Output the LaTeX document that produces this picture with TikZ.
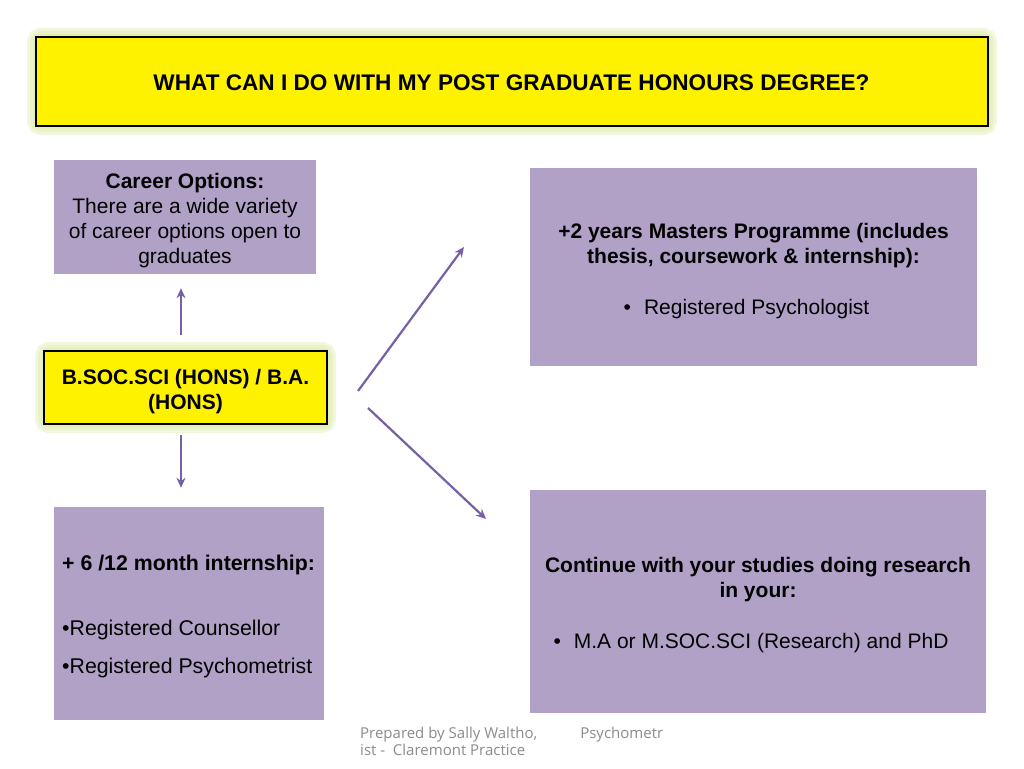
\documentclass[tikz,border=0pt]{standalone}
\usepackage{fontspec}
\usetikzlibrary{arrows.meta}
\setmainfont{Liberation Sans}
\newfontfamily\footfont{Open Sans}
\definecolor{boxpurple}{HTML}{B2A1C7}
\definecolor{arrowpurple}{HTML}{7760A6}
\definecolor{glowgreen}{HTML}{DDEBA8}
\definecolor{foottext}{HTML}{8C8C8C}
\begin{document}
\begin{tikzpicture}[x=1pt,y=-1pt,
  purplebox/.style={fill=boxpurple, draw=none, inner sep=0pt},
  yellowbox/.style={fill=yellow, draw=black, line width=2.5pt, inner sep=0pt},
  boxtext/.style={inner sep=0pt, align=center, font=\fontsize{21}{25}\selectfont},
  boldtext/.style={boxtext, font=\fontsize{21}{25}\selectfont\bfseries},
  linetext/.style={inner sep=0pt, anchor=base west, font=\fontsize{21.3}{25}\selectfont},
  glow/.style={draw=glowgreen, line width=#1, opacity=0.4, rounded corners=5pt},
  arrowline/.style={draw=arrowpurple, line width=2.2pt, -{Stealth[length=10pt,width=9pt]}}
]
\useasboundingbox (0,0) rectangle (1024,768);
\fill[white] (0,0) rectangle (1024,768);

% glows
\foreach \w in {18,12,6} {
  \draw[glow=\w pt] (36,37) rectangle (988,126);
  \draw[glow=\w pt] (44,351) rectangle (327,424);
}

% title
\node[yellowbox, minimum width=952pt, minimum height=89pt] (title) at (512,81.5) {};
\node[boldtext, font=\fontsize{22.6}{26}\selectfont\bfseries] (titletext) at (511.5,83)
  {WHAT CAN I DO WITH MY POST GRADUATE HONOURS DEGREE?};

% career options
\node[purplebox, minimum width=262pt, minimum height=114pt] (career) at (185,217) {};
\node[boxtext] (careertext) at (185,221)
  {\textbf{Career Options:}\\There are a wide variety\\of career options open to\\graduates};

% centre degree
\node[yellowbox, minimum width=283pt, minimum height=73pt] (degree) at (185.5,387.5) {};
\node[boldtext] (degreetext) at (185.5,391.5) {B.SOC.SCI (HONS) / B.A.\\(HONS)};

% masters
\node[purplebox, minimum width=447pt, minimum height=198pt] (masters) at (753.5,267) {};
\node[boxtext] (masterstext) at (753.5,271)
  {\textbf{+2 years Masters Programme (includes}\\\textbf{thesis, coursework \& internship):}\\[26pt]%
   \textbullet\hspace{13pt}Registered Psychologist\hspace*{14pt}};

% internship
\node[purplebox, minimum width=270pt, minimum height=213pt] (intern) at (189,613.5) {};
\node[linetext, font=\fontsize{21.3}{25}\selectfont\bfseries] (internhead) at (62,570.5) {+ 6 /12 month internship:};
\node[linetext] (internone) at (62,635.5) {\textbullet Registered Counsellor};
\node[linetext] (interntwo) at (62,673.5) {\textbullet Registered Psychometrist};

% research
\node[purplebox, minimum width=456pt, minimum height=223pt] (research) at (758,601.5) {};
\node[boxtext] (researchtext) at (758,605.5)
  {\textbf{Continue with your studies doing research}\\\textbf{in your:}\\[26pt]%
   \textbullet\hspace{13pt}M.A or M.SOC.SCI (Research) and PhD\hspace*{14pt}};

% connectors
\draw[arrowline, shorten <=15pt, shorten >=14pt]
  ([xshift=-4.5pt]degree.north) -- ([xshift=-4.5pt]degree.north |- career.south);
\draw[arrowline, shorten <=10pt, shorten >=19pt]
  ([xshift=-4.5pt]degree.south) -- ([xshift=-4.5pt]degree.south |- intern.north);
\coordinate (upstart) at (358,391);
\coordinate (upend) at (464,247);
\coordinate (downstart) at (368,408);
\coordinate (downend) at (486,519);
\draw[arrowline] (upstart) -- (upend);
\draw[arrowline] (downstart) -- (downend);

% footer
\node[anchor=base west, inner sep=0pt, align=left, text=foottext,
  font=\footfont\fontsize{15}{17}\selectfont] (footer) at (360,738.5)
  {Prepared by Sally Waltho,\hspace{43pt}Psychometr};
\node[anchor=base west, inner sep=0pt, align=left, text=foottext,
  font=\footfont\fontsize{15}{17}\selectfont] (footertwo) at (360,755.5)
  {ist -\ \ Claremont Practice};
\end{tikzpicture}
\end{document}
